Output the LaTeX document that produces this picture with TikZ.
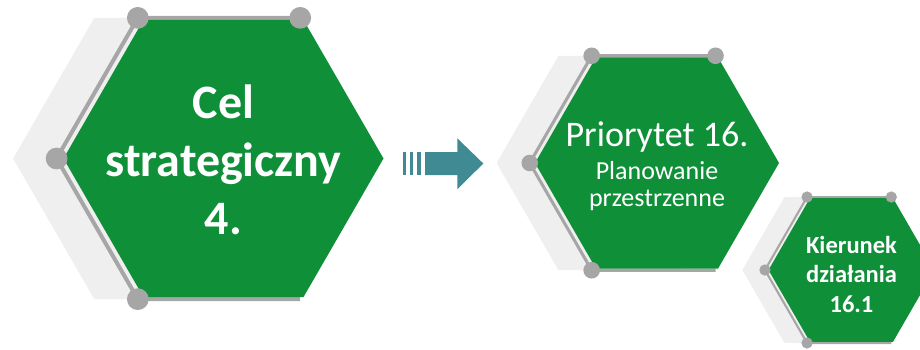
\documentclass[tikz,border=0pt]{standalone}
\usepackage{fontspec}
\setmainfont{Carlito}
\usetikzlibrary{shapes.geometric}

\definecolor{hexgreen}{RGB}{16,143,57}
\definecolor{rimgray}{RGB}{166,166,166}
\definecolor{shadegray}{RGB}{239,239,239}
\definecolor{arrowteal}{RGB}{64,139,147}

\tikzset{
    hexa/.style={regular polygon, regular polygon sides=6, inner sep=0pt, outer sep=0pt, fill=hexgreen},
    hextext/.style={text=white, align=center, inner sep=0pt}
}

\begin{document}
\begin{tikzpicture}[x=1pt, y=1pt]
    \useasboundingbox (0,0) rectangle (920,349);
    \clip (0,0) rectangle (920,349);

    % Hexagons: name / centre / radius
    \foreach \hexname/\cx/\cy/\rad in {cel/223.5/190.5/160, prio/657/186/122, kier/851.5/79/83} {
        \pgfmathsetmacro{\sx}{\cx-0.3*\rad}
        \pgfmathsetmacro{\gx}{\cx-0.028*\rad}
        \pgfmathsetmacro{\gr}{1.015*\rad}
        % light shadow on the left
        \node[hexa, fill=shadegray, minimum size=2*\gr pt] (\hexname-shade) at (\sx,\cy) {};
        % gray rim round the left half
        \draw[rimgray, line width=0.025*\rad pt, line join=round]
            (\gx,\cy) +(60:\gr) -- +(120:\gr) -- +(180:\gr) -- +(240:\gr) -- +(300:\gr);
        % green hexagon
        \node[hexa, minimum size=2*\rad pt] (\hexname) at (\cx,\cy) {};
        % dots on the corners
        \foreach \a in {60, 120, 180, 240}
            \fill[rimgray] (\gx,\cy) ++(\a:\gr) circle (0.068*\rad);
    }

    % Texts
    \node[hextext, font=\bfseries\fontsize{48}{58}\selectfont] (cel-text) at ([yshift=-1.5pt]cel.center)
        {Cel\\strategiczny\\4.};
    \node[hextext, font=\fontsize{26}{27}\selectfont] (prio-text) at ([yshift=-3pt]prio.center)
        {{\fontsize{36}{36}\selectfont Priorytet 16.}\\[6pt]Planowanie\\przestrzenne};
    \node[hextext, font=\bfseries\fontsize{24.5}{29.5}\selectfont] (kier-text) at ([yshift=-4pt]kier.center)
        {Kierunek\\dzia\l{}ania\\16.1};

    % Arrow between the levels
    \foreach \x in {402.7, 410, 417.3}
        \fill[arrowteal] (\x,174) rectangle ++(3.4,23);
    \fill[arrowteal] (425,174) -- (457.3,174) -- (457.3,159.7) -- (483.3,185.5)
        -- (457.3,210.7) -- (457.3,197) -- (425,197) -- cycle;
\end{tikzpicture}
\end{document}
